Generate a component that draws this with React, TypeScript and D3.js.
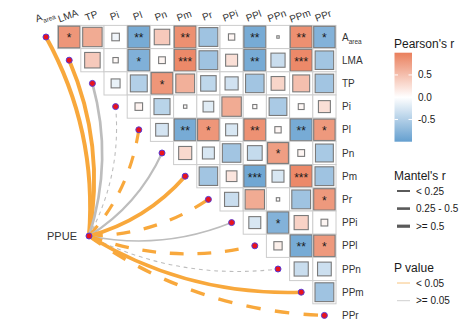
import React from 'react';
import * as d3 from 'd3';

const vars = ['Aarea', 'LMA', 'TP', 'Pi', 'Pl', 'Pn', 'Pm', 'Pr', 'PPi', 'PPl', 'PPn', 'PPm', 'PPr'];

// Upper triangle of Pearson's r: row i holds columns i+1 .. 12
const corrRows: number[][] = [
  [0.82, 0.66, -0.1, -0.88, 0.42, 0.87, -0.62, 0.07, -0.88, 0.01, 0.87, -0.8],
  [0.42, 0.05, -0.82, 0.08, 0.92, -0.62, 0.25, -0.88, -0.35, 0.92, -0.6],
  [-0.14, -0.5, 0.82, 0.62, -0.42, -0.3, -0.6, 0.33, 0.5, -0.6],
  [0.1, -0.45, 0.02, -0.2, 0.66, 0.03, -0.55, 0.06, 0.25],
  [-0.28, -0.88, 0.82, -0.25, 0.86, 0.07, -0.88, 0.8],
  [0.3, -0.25, -0.6, -0.38, 0.76, 0.08, -0.56],
  [-0.6, 0.2, -0.92, -0.25, 0.92, -0.62],
  [-0.35, 0.66, 0.02, -0.62, 0.8],
  [-0.25, -0.8, 0.35, 0.08],
  [0.12, -0.88, 0.8],
  [-0.35, -0.33],
  [-0.62],
];

const sigRows: string[][] = [
  ['*', '', '', '**', '', '**', '', '', '**', '', '**', '*'],
  ['', '', '*', '', '***', '', '', '**', '', '***', ''],
  ['', '', '*', '', '', '', '', '', '', ''],
  ['', '', '', '', '', '', '', '', ''],
  ['', '**', '*', '', '**', '', '**', '*'],
  ['', '', '', '', '*', '', ''],
  ['', '', '***', '', '***', ''],
  ['', '', '', '', '*'],
  ['', '*', '', ''],
  ['', '**', '*'],
  ['', ''],
  [''],
];

// Mantel test of PPUE against each variable (signed r, p value)
const envName = 'PPUE';
const mantelR = [0.7, 0.68, 0.42, -0.08, -0.52, 0.3, 0.66, -0.55, 0.2, -0.55, -0.08, 0.6, -0.58];
const mantelP = [0.001, 0.001, 0.12, 0.56, 0.02, 0.21, 0.001, 0.01, 0.34, 0.01, 0.72, 0.003, 0.01];

const colorTicks = [0.5, 0.0, -0.5];
const mantelLegend = ['< 0.25', '0.25 - 0.5', '>= 0.5'];
const pLegend = ['< 0.05', '>= 0.05'];

const W = 476;
const H = 327;
const FONT = 'Liberation Sans, Arial, Helvetica, sans-serif';

const x = d3.scaleBand<string>().domain(vars).range([34.4, 336]).padding(0);
const y = d3.scaleBand<string>().domain(vars).range([25.4, 327]).padding(0);
const cs = x.bandwidth();

const fill = d3
  .scaleLinear<string>()
  .domain([-1, 0, 1])
  .range(['#649fcf', '#ffffff', '#ea7f5c'])
  .interpolate(d3.interpolateRgb)
  .clamp(true);

const sideScale = (r: number) => Math.min(0.94, 1.03 * Math.sqrt(Math.abs(r))) * cs;
const widthScale = d3.scaleLinear().domain([0, 0.7]).range([0.7, 4]).clamp(true);

const barY = d3.scaleLinear().domain([1, -1]).range([52.7, 141.7]);

const envX = 89;
const envY = 236;

function VarLabel({ name, small }: { name: string; small: number }) {
  if (name === 'Aarea') {
    return (
      <>
        <tspan>A</tspan>
        <tspan fontSize={small} dy={3}>area</tspan>
      </>
    );
  }
  return <>{name}</>;
}

function curvePath(x0: number, y0: number, x1: number, y1: number) {
  const dx = x1 - x0;
  const dy = y1 - y0;
  const L = Math.sqrt(dx * dx + dy * dy);
  const k = 0.15 * L;
  const mx = (x0 + x1) / 2;
  const my = (y0 + y1) / 2;
  const cx = mx + (-dy / L) * k;
  const cy = my + (dx / L) * k;
  const p = d3.path();
  p.moveTo(x0, y0);
  p.quadraticCurveTo(cx, cy, x1, y1);
  return p.toString();
}

export default function App() {
  const cells: JSX.Element[] = [];
  corrRows.forEach((row, i) => {
    row.forEach((r, k) => {
      const j = i + 1 + k;
      const cx = (x(vars[j]) as number) + cs / 2;
      const cy = (y(vars[i]) as number) + cs / 2;
      const s = sideScale(r);
      const sig = sigRows[i][k];
      cells.push(
        <g key={`c${i}-${j}`}>
          <rect x={cx - cs / 2} y={cy - cs / 2} width={cs} height={cs} fill="#ffffff" stroke="#cccccc" strokeWidth={1} />
          <rect x={cx - s / 2} y={cy - s / 2} width={s} height={s} fill={fill(r)} stroke="#7a7a7a" strokeWidth={1.1} />
          {sig && (
            <text x={cx} y={cy + 5.3} textAnchor="middle" fontSize={12} fill="#1a1a1a" fontFamily={FONT}>
              {sig}
            </text>
          )}
        </g>
      );
    });
  });

  const links = vars.map((v, i) => {
    const tx = (x(v) as number) + cs / 2;
    const ty = (y(v) as number) + cs / 2;
    const r = mantelR[i];
    const w = widthScale(Math.abs(r));
    const col = mantelP[i] < 0.05 ? '#f8a83c' : '#bdbdbd';
    const dash = r < 0 ? `${4.5 * w - 1} ${4.5 * w - 1}` : undefined;
    return (
      <path key={`l${i}`} d={curvePath(envX, envY, tx, ty)} fill="none" stroke={col} strokeWidth={w} strokeDasharray={dash} />
    );
  });

  const dots = vars.map((v, i) => (
    <circle key={`d${i}`} cx={(x(v) as number) + cs / 2} cy={(y(v) as number) + cs / 2} r={3} fill="#e8141c" stroke="#5a3ad6" strokeWidth={1} />
  ));

  const stops = d3.range(0, 21).map((k) => {
    const v = 1 - k / 10;
    return <stop key={k} offset={`${(k / 20) * 100}%`} stopColor={fill(v)} />;
  });

  const legendLineW = [2, 2.6, 3.2];

  return (
    <svg width={W} height={H} style={{ position: 'absolute', left: 0, top: 0 }} fontFamily={FONT}>
      <defs>
        <linearGradient id="pearson" x1="0" y1="0" x2="0" y2="1">
          {stops}
        </linearGradient>
      </defs>
      <rect x={0} y={0} width={W} height={H} fill="#ffffff" />
      {cells}
      {links}
      {dots}
      <circle cx={envX} cy={envY} r={3} fill="#e8141c" stroke="#5a3ad6" strokeWidth={1} />
      <text x={envX - 12} y={envY + 4} textAnchor="end" fontSize={11} fill="#333333">
        {envName}
      </text>

      {/* column labels */}
      {vars.map((v) => {
        const cx = (x(v) as number) + cs / 2;
        return (
          <text key={`cl${v}`} x={cx} y={19} textAnchor="middle" fontSize={10} fill="#333333" transform={`rotate(-20 ${cx} 19)`}>
            <VarLabel name={v} small={6.5} />
          </text>
        );
      })}
      {/* row labels */}
      {vars.map((v) => {
        const cy = (y(v) as number) + cs / 2;
        return (
          <text key={`rl${v}`} x={342} y={cy + 3.5} fontSize={10} fill="#333333">
            <VarLabel name={v} small={6.5} />
          </text>
        );
      })}

      {/* Pearson legend */}
      <text x={394} y={48} fontSize={12} fill="#1a1a1a">Pearson's r</text>
      <rect x={394.5} y={barY(1)} width={17.5} height={barY(-1) - barY(1)} fill="url(#pearson)" />
      {colorTicks.map((t) => (
        <g key={`t${t}`}>
          <line x1={394.5} x2={398} y1={barY(t)} y2={barY(t)} stroke="#ffffff" strokeWidth={1} />
          <line x1={408.5} x2={412} y1={barY(t)} y2={barY(t)} stroke="#ffffff" strokeWidth={1} />
          <text x={418} y={barY(t) + 3.5} fontSize={10} fill="#1a1a1a">
            {t.toFixed(1)}
          </text>
        </g>
      ))}

      {/* Mantel legend */}
      <text x={394} y={180} fontSize={12} fill="#1a1a1a">Mantel's r</text>
      {mantelLegend.map((lab, k) => {
        const ly = 191 + k * 17.6;
        return (
          <g key={`ml${k}`}>
            <line x1={397} x2={410} y1={ly} y2={ly} stroke="#5a5a5a" strokeWidth={legendLineW[k]} />
            <text x={416} y={ly + 3.5} fontSize={10} fill="#1a1a1a">{lab}</text>
          </g>
        );
      })}

      {/* P value legend */}
      <text x={394} y={272} fontSize={12} fill="#1a1a1a">P value</text>
      {pLegend.map((lab, k) => {
        const ly = 283 + k * 17.7;
        return (
          <g key={`pl${k}`}>
            <line x1={397} x2={410} y1={ly} y2={ly} stroke={k === 0 ? '#f8c47f' : '#cfcfcf'} strokeWidth={1} />
            <text x={416} y={ly + 3.5} fontSize={10} fill="#1a1a1a">{lab}</text>
          </g>
        );
      })}
    </svg>
  );
}
